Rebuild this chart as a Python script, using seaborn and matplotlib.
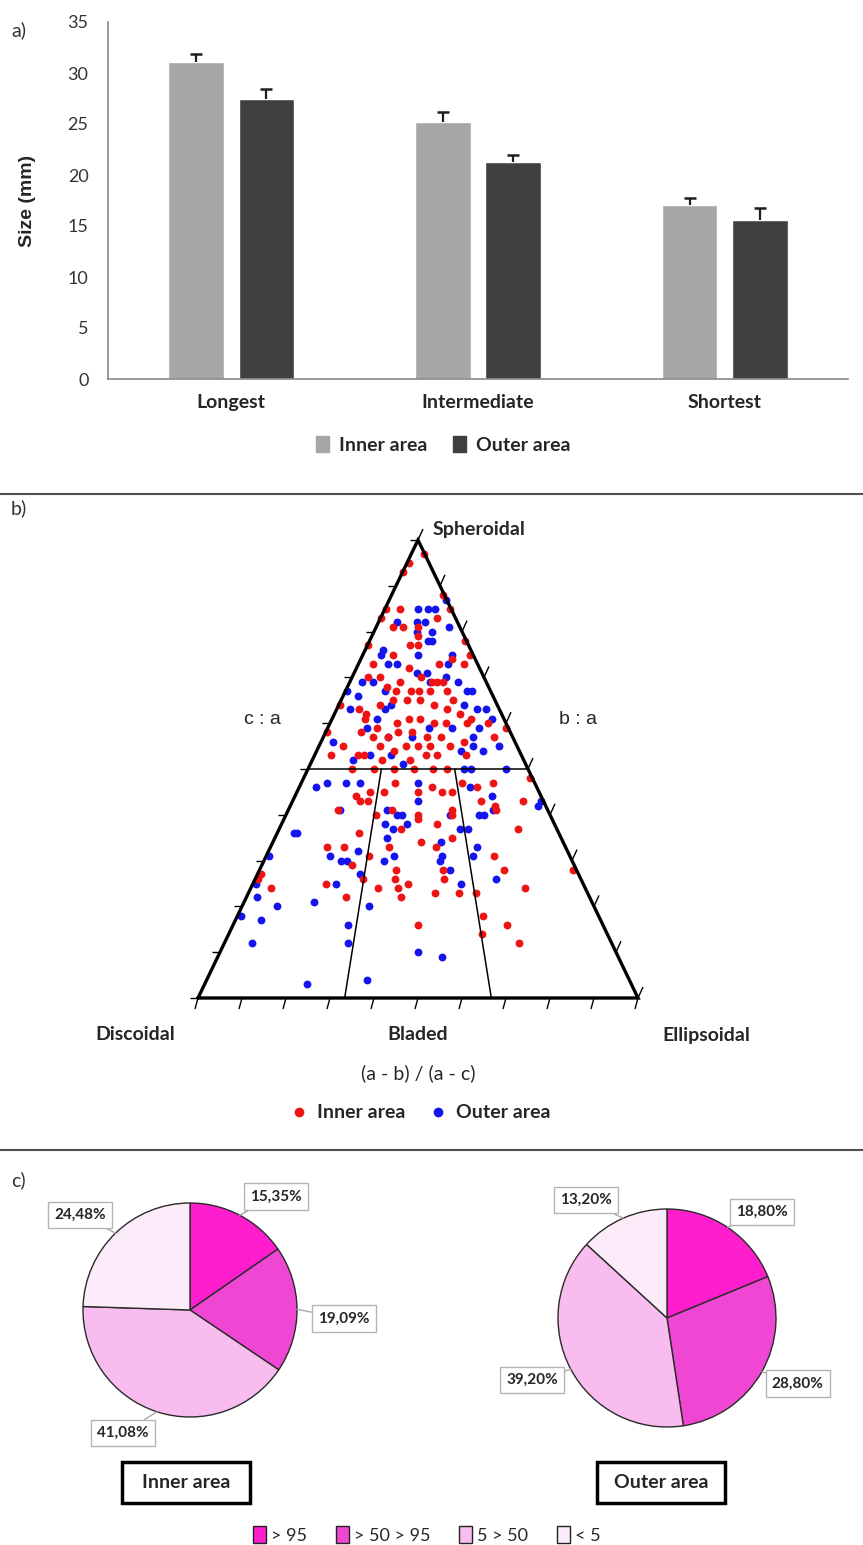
import numpy as np
import pandas as pd
import matplotlib
matplotlib.use("Agg")
import matplotlib.pyplot as plt
from matplotlib.patches import Patch, Rectangle
from matplotlib.lines import Line2D
from matplotlib.collections import LineCollection
import seaborn as sns

W, H = 863, 1545

# a) axis sizes
dims = ["Longest", "Intermediate", "Shortest"]
areas = ["Inner area", "Outer area"]
inner_size = [31.1, 25.2, 17.1]
outer_size = [27.5, 21.3, 15.6]
inner_err = [0.75, 1.0, 0.6]
outer_err = [0.9, 0.65, 1.15]

# b) Sneed & Folk form diagram: c/a and (a-b)/(a-c)
inner_ca = [0.97, 0.95, 0.93, 0.88, 0.85, 0.85, 0.83, 0.85, 0.83, 0.81, 0.81, 0.81, 0.79, 0.77, 0.77,
            0.77, 0.75, 0.78, 0.75, 0.74, 0.73, 0.73, 0.72, 0.73, 0.70, 0.70, 0.68, 0.69, 0.70, 0.69,
            0.69, 0.69, 0.67, 0.67, 0.67, 0.67, 0.67, 0.65, 0.63, 0.62, 0.64, 0.65, 0.65, 0.65, 0.64,
            0.63, 0.62, 0.61, 0.64, 0.61, 0.59, 0.60, 0.61, 0.61, 0.60, 0.60, 0.60, 0.60, 0.58, 0.55,
            0.53, 0.58, 0.57, 0.57, 0.58, 0.58, 0.57, 0.57, 0.55, 0.56, 0.57, 0.59, 0.55, 0.54, 0.55,
            0.55, 0.55, 0.53, 0.53, 0.52, 0.52, 0.53, 0.53, 0.53, 0.50, 0.50, 0.50, 0.50, 0.50, 0.50,
            0.48, 0.44, 0.45, 0.43, 0.43, 0.45, 0.47, 0.45, 0.46, 0.45, 0.45, 0.47, 0.46, 0.47, 0.41,
            0.40, 0.41, 0.40, 0.39, 0.38, 0.41, 0.40, 0.43, 0.42, 0.41, 0.43, 0.36, 0.37, 0.35, 0.37,
            0.33, 0.33, 0.31, 0.29, 0.26, 0.33, 0.34, 0.33, 0.28, 0.26, 0.28, 0.26, 0.25, 0.24, 0.22,
            0.24, 0.23, 0.23, 0.23, 0.31, 0.28, 0.24, 0.25, 0.22, 0.24, 0.27, 0.26, 0.18, 0.14, 0.16,
            0.16, 0.12, 0.28]
inner_abac = [0.98, 0.08, 0.02, 0.98, 0.99, 0.01, 0.01, 0.23, 0.75, 0.20, 0.32, 0.50, 0.50, 0.42, 0.50,
              0.01, 0.27, 0.99, 0.97, 0.80, 0.89, 0.12, 0.43, 0.68, 0.12, 0.21, 0.28, 0.37, 0.52, 0.60,
              0.64, 0.68, 0.35, 0.45, 0.51, 0.58, 0.70, 0.73, 0.14, 0.19, 0.26, 0.34, 0.43, 0.51, 0.60,
              0.68, 0.75, 0.81, 0.01, 0.19, 0.27, 0.38, 0.45, 0.51, 0.59, 0.66, 0.78, 0.90, 0.01, 0.12,
              0.08, 0.19, 0.26, 0.34, 0.39, 0.47, 0.55, 0.62, 0.66, 0.74, 0.90, 0.99, 0.31, 0.38, 0.44,
              0.50, 0.56, 0.21, 0.24, 0.33, 0.46, 0.54, 0.59, 0.73, 0.20, 0.30, 0.39, 0.48, 0.57, 0.63,
              0.99, 0.25, 0.30, 0.27, 0.30, 0.36, 0.40, 0.50, 0.56, 0.60, 0.64, 0.69, 0.75, 0.82, 0.19,
              0.34, 0.40, 0.50, 0.50, 0.57, 0.63, 0.63, 0.75, 0.80, 0.80, 0.92, 0.29, 0.44, 0.62, 0.86,
              0.19, 0.25, 0.34, 0.29, 0.33, 0.40, 0.51, 0.56, 0.43, 0.43, 0.58, 0.58, 0.47, 0.44, 0.45,
              0.38, 0.55, 0.62, 0.67, 0.75, 0.77, 0.82, 0.22, 0.29, 0.06, 0.01, 0.01, 0.68, 0.67, 0.50,
              0.74, 0.76, 0.99]
outer_ca = [0.85, 0.85, 0.85, 0.87, 0.81, 0.82, 0.82, 0.82, 0.80, 0.78, 0.78, 0.80, 0.76, 0.75, 0.73,
            0.73, 0.75, 0.75, 0.73, 0.69, 0.69, 0.67, 0.64, 0.63, 0.71, 0.71, 0.69, 0.70, 0.69, 0.67,
            0.67, 0.64, 0.63, 0.63, 0.61, 0.67, 0.66, 0.63, 0.61, 0.59, 0.57, 0.57, 0.59, 0.59, 0.57,
            0.59, 0.56, 0.52, 0.53, 0.53, 0.51, 0.54, 0.55, 0.54, 0.55, 0.50, 0.50, 0.50, 0.46, 0.47,
            0.47, 0.47, 0.47, 0.46, 0.44, 0.42, 0.43, 0.43, 0.41, 0.41, 0.40, 0.40, 0.38, 0.37, 0.38,
            0.40, 0.40, 0.40, 0.41, 0.37, 0.37, 0.36, 0.36, 0.35, 0.34, 0.33, 0.31, 0.31, 0.31, 0.32,
            0.30, 0.30, 0.30, 0.31, 0.31, 0.30, 0.28, 0.27, 0.25, 0.25, 0.26, 0.22, 0.20, 0.21, 0.20,
            0.25, 0.18, 0.17, 0.16, 0.12, 0.12, 0.10, 0.09, 0.03, 0.04]
outer_abac = [0.50, 0.65, 0.76, 0.99, 0.87, 0.23, 0.49, 0.59, 0.66, 0.60, 0.64, 0.49, 0.17, 0.16, 0.25,
              0.32, 0.50, 0.81, 0.75, 0.09, 0.17, 0.27, 0.33, 0.30, 0.49, 0.57, 0.59, 0.71, 0.79, 0.84,
              0.87, 0.79, 0.86, 0.92, 0.93, 0.01, 0.10, 0.08, 0.26, 0.22, 0.34, 0.47, 0.56, 0.69, 0.79,
              0.84, 0.06, 0.19, 0.27, 0.37, 0.43, 0.71, 0.78, 0.82, 0.91, 0.90, 0.74, 0.71, 0.07, 0.11,
              0.19, 0.25, 0.50, 0.72, 0.80, 0.97, 0.99, 0.50, 0.20, 0.38, 0.42, 0.44, 0.38, 0.41, 0.46,
              0.62, 0.73, 0.75, 0.79, 0.65, 0.68, 0.07, 0.06, 0.39, 0.58, 0.70, 0.68, 0.01, 0.21, 0.30,
              0.25, 0.27, 0.39, 0.42, 0.58, 0.57, 0.60, 0.32, 0.25, 0.63, 0.74, 0.03, 0.10, 0.20, 0.36,
              0.01, 0.01, 0.07, 0.31, 0.07, 0.32, 0.50, 0.56, 0.24, 0.38]

# c) roundness classes (%)
classes = ["> 95", "> 50 > 95", "5 > 50", "< 5"]
inner_pct = [15.35, 19.09, 41.08, 24.48]
outer_pct = [18.80, 28.80, 39.20, 13.20]


def box(x0, y0, x1, y1):
    # pixel box (top-left origin) -> figure fraction rect
    return [x0 / W, 1 - y1 / H, (x1 - x0) / W, (y1 - y0) / H]


def fpos(x, y):
    return x / W, 1 - y / H


sns.set_theme(style="white")
plt.rcParams["font.family"] = ["Lato", "DejaVu Sans"]

fig = plt.figure(figsize=(W / 100, H / 100), dpi=100)

# ---------------- a) bar chart ----------------
ax = fig.add_axes(box(108, 22, 848, 379))
df_a = pd.DataFrame({"dim": dims * 2,
                     "area": [areas[0]] * 3 + [areas[1]] * 3,
                     "size": inner_size + outer_size})
bar_cols = ["#a6a6a6", "#404040"]
sns.barplot(data=df_a, x="dim", y="size", hue="area", palette=bar_cols, width=0.57, gap=0.21,
            errorbar=None, saturation=1, legend=False, ax=ax)
# upper error bars only, cap on top
for cont, err in zip(ax.containers, [inner_err, outer_err]):
    xs = np.array([b.get_x() + b.get_width() / 2 for b in cont])
    ys = np.array([b.get_height() for b in cont])
    ax.errorbar(xs, ys, yerr=[np.zeros(len(err)), err], fmt="none", ecolor="#1e1e1e",
                elinewidth=1.6, capsize=0)
    ax.plot(xs, ys + np.array(err), ls="none", marker="_", markersize=8.6, mew=1.8, color="#1e1e1e")
ax.set_xlim(-0.5, 2.5)
ax.set_ylim(0, 35)
ax.set_yticks(range(0, 36, 5))
ax.tick_params(axis="y", length=0, pad=14, labelsize=13, labelcolor="#333333")
ax.tick_params(axis="x", length=0, pad=11)
for t in ax.get_xticklabels():
    t.set_fontweight("bold")
    t.set_fontsize(14)
ax.set_xlabel("")
ax.set_ylabel("Size (mm)", fontsize=14, fontweight="bold", family="Liberation Sans")
ax.yaxis.set_label_coords(-0.097, 0.5)
sns.despine(ax=ax)
for s in ["left", "bottom"]:
    ax.spines[s].set_color("#8a8a8a")
    ax.spines[s].set_linewidth(1.2)

fig.legend(handles=[Patch(color=c) for c in bar_cols], labels=areas, loc="center",
           bbox_to_anchor=fpos(443, 445), ncol=2, frameon=False,
           prop=dict(weight="bold", size=14), handlelength=0.7, handleheight=0.85,
           handletextpad=0.5, columnspacing=1.3)

# ---------------- b) form diagram ----------------
axt = fig.add_axes(box(198, 540, 638, 998))
axt.set_xlim(0, 1)
axt.set_ylim(0, 1)
axt.axis("off")
px, py = 1 / 440, 1 / 458


def project(ca, abac):
    ca = np.asarray(ca)
    abac = np.asarray(abac)
    return 0.5 + (abac - 0.5) * (1 - ca), ca


ox, oy = project(outer_ca, outer_abac)
ix, iy = project(inner_ca, inner_abac)
sns.scatterplot(x=ox, y=oy, color="#1414ee", s=32, linewidth=0, ax=axt, clip_on=False, zorder=2)
sns.scatterplot(x=ix, y=iy, color="#ee1414", s=32, linewidth=0, ax=axt, clip_on=False, zorder=2)

axt.plot([0, 1, 0.5, 0], [0, 0, 1, 0], color="black", lw=2.4, clip_on=False,
         solid_joinstyle="miter", zorder=3)
# class boundaries
axt.plot([0.25, 0.75], [0.5, 0.5], color="black", lw=1.1, zorder=3)
for f in [1 / 3, 2 / 3]:
    axt.plot([0.5 + (f - 0.5) * 0.5, f], [0.5, 0], color="black", lw=1.1, zorder=3)
segs = []
for v in np.linspace(0, 1, 11):
    segs.append([(0.5 * v, v), (0.5 * v - 8 * px, v)])
    segs.append([(1 - 0.5 * v, v), (1 - 0.5 * v + 5 * px, v + 11 * py)])
    segs.append([(v, 0), (v - 3 * px, -11 * py)])
axt.add_collection(LineCollection(segs, colors="black", linewidths=1.0, clip_on=False))

fig.text(*fpos(433, 530), "Spheroidal", ha="left", va="center", fontsize=14, fontweight="bold")
fig.text(*fpos(262, 720), "c : a", ha="center", va="center", fontsize=14, family="Liberation Sans")
fig.text(*fpos(578, 720), "b : a", ha="center", va="center", fontsize=14, family="Liberation Sans")
for lbl, x in zip(["Discoidal", "Bladed", "Ellipsoidal"], [135, 418, 706]):
    fig.text(*fpos(x, 1035), lbl, ha="center", va="center", fontsize=14, fontweight="bold")
fig.text(*fpos(418, 1073), "(a - b) / (a - c)", ha="center", va="center", fontsize=14)
dot = dict(marker="o", linestyle="none", markersize=7, markeredgewidth=0)
fig.legend(handles=[Line2D([], [], color="#ee1414", **dot), Line2D([], [], color="#1414ee", **dot)],
           labels=areas, loc="center", bbox_to_anchor=fpos(422, 1113), ncol=2, frameon=False,
           prop=dict(weight="bold", size=14), handlelength=0.6, handletextpad=0.6,
           columnspacing=1.4)

# ---------------- c) pies ----------------
pie_cols = ["#ff1ecd", "#ef46d3", "#f8bdee", "#fcebf9"]
pies = [(inner_pct, 190, 1310, 107, [(0.80, 1.06), (1.44, -0.08), (-0.63, -1.15), (-1.03, 0.89)]),
        (outer_pct, 667, 1318, 109, [(0.87, 0.97), (1.20, -0.60), (-1.24, -0.57), (-0.74, 1.08)])]
for pct, cx, cy, r, lpos in pies:
    axp = fig.add_axes(box(cx - r, cy - r, cx + r, cy + r))
    wedges, _ = axp.pie(pct, colors=pie_cols, startangle=90, counterclock=False,
                        wedgeprops=dict(edgecolor="#2a2a2a", linewidth=1.0))
    axp.set_xlim(-1, 1)
    axp.set_ylim(-1, 1)
    for w in wedges:
        w.set_clip_on(False)
    for w, v, pos in zip(wedges, pct, lpos):
        th = np.deg2rad((w.theta1 + w.theta2) / 2)
        axp.annotate(f"{v:.2f}%".replace(".", ","), xy=(np.cos(th), np.sin(th)), xytext=pos,
                     ha="center", va="center", fontsize=11, fontweight="bold", annotation_clip=False,
                     bbox=dict(boxstyle="square,pad=0.4", fc="white", ec="#b4b4b4", lw=1),
                     arrowprops=dict(arrowstyle="-", color="#a8a8a8", lw=1, shrinkA=0, shrinkB=0))

for lbl, x0 in zip(areas, [122, 597]):
    fig.add_artist(Rectangle(fpos(x0, 1503), 128 / W, 41 / H, transform=fig.transFigure,
                             fill=False, ec="black", lw=2.5))
    fig.text(*fpos(x0 + 64, 1483), lbl, ha="center", va="center", fontsize=14, fontweight="bold")

fig.legend(handles=[Patch(fc=c, ec="#222222", lw=1) for c in pie_cols], labels=classes,
           loc="center", bbox_to_anchor=fpos(427, 1535), ncol=4, frameon=False, fontsize=13,
           handlelength=0.7, handleheight=1.0, handletextpad=0.3, columnspacing=1.6)

# panel letters and separators
for lbl, y in [("a)", 30), ("b)", 508), ("c)", 1180)]:
    fig.text(*fpos(11, y), lbl, ha="left", va="center", fontsize=14, color="#333333")
for y in [494, 1150]:
    fig.add_artist(Line2D([0, 1], [1 - y / H, 1 - y / H], transform=fig.transFigure,
                          color="#505050", lw=1.5))

fig.savefig("out.png", dpi=100)
